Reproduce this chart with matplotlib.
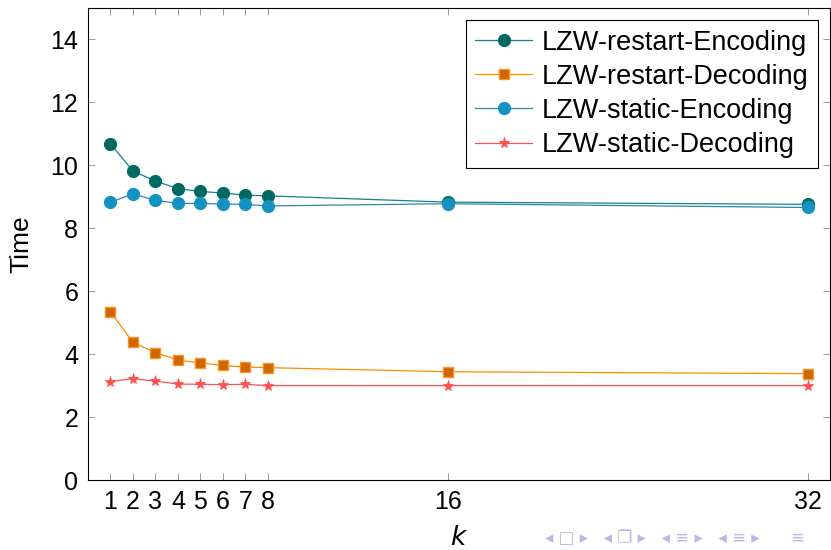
import matplotlib as mpl
mpl.use('Agg')
import matplotlib.pyplot as plt

# k values and timings
k = [1, 2, 3, 4, 5, 6, 7, 8, 16, 32]
restart_enc = [10.68, 9.82, 9.50, 9.26, 9.17, 9.12, 9.05, 9.03, 8.83, 8.76]
restart_dec = [5.35, 4.37, 4.05, 3.81, 3.72, 3.64, 3.59, 3.57, 3.44, 3.38]
static_enc = [8.83, 9.09, 8.89, 8.79, 8.79, 8.77, 8.76, 8.71, 8.78, 8.66]
static_dec = [3.13, 3.22, 3.14, 3.05, 3.04, 3.03, 3.04, 3.00, 3.00, 3.00]
yticks = [0, 2, 4, 6, 8, 10, 12, 14]

plt.rcParams['font.family'] = ['Liberation Sans', 'DejaVu Sans']

fig = plt.figure(figsize=(8.31, 5.5), dpi=100)
ax = fig.add_axes([88 / 831, 70 / 550, 742 / 831, 472 / 550])

lw = 0.9
ax.plot(k, restart_enc, color='#108585', lw=lw, marker='o', ms=8.5,
        mfc='#00695f', mec='#006b62', label='LZW-restart-Encoding')
ax.plot(k, restart_dec, color='#ff8c00', lw=lw, marker='s', ms=7.5,
        mfc='#cc6600', mec='#ff9020', label='LZW-restart-Decoding')
ax.plot(k, static_enc, color='#2f86aa', lw=lw, marker='o', ms=8.5,
        mfc='#1493c2', mec='#1493c2', label='LZW-static-Encoding')
ax.plot(k, static_dec, color='#ff5050', lw=lw, marker='*', ms=8,
        mfc='#ff5050', mec='#ff5050', mew=0.6, label='LZW-static-Decoding')

ax.set_xlim(0, 33)
ax.set_ylim(0, 15)
ax.set_xticks(k)
ax.set_yticks(yticks)
ax.tick_params(direction='in', length=5, width=0.7, color='#999999',
               labelsize=18, top=True, right=True)
ax.tick_params(axis='x', pad=7)
ax.tick_params(axis='y', pad=7)
for s in ax.spines.values():
    s.set_linewidth(0.8)

ax.set_xlabel('$k$', fontsize=19, labelpad=9)
ax.set_ylabel('Time', fontsize=19, labelpad=12)

leg = ax.legend(loc='upper right', fontsize=19.5, frameon=True, fancybox=False,
                edgecolor='black', framealpha=1, handlelength=2.1,
                handletextpad=0.35, borderpad=0.35, labelspacing=0.3,
                borderaxespad=0.45)
leg.get_frame().set_linewidth(0.8)

# beamer navigation symbols
fig.text(0.969, 0.005, '◂ □ ▸   ◂ ❐ ▸   ◂ ≡ ▸   ◂ ≡ ▸      ≡', ha='right', va='bottom',
         fontsize=12, color='#b8b8e6',
         family=['DejaVu Sans', 'Noto Sans CJK SC', 'Noto Sans'])

plt.savefig('out.png', dpi=100)
